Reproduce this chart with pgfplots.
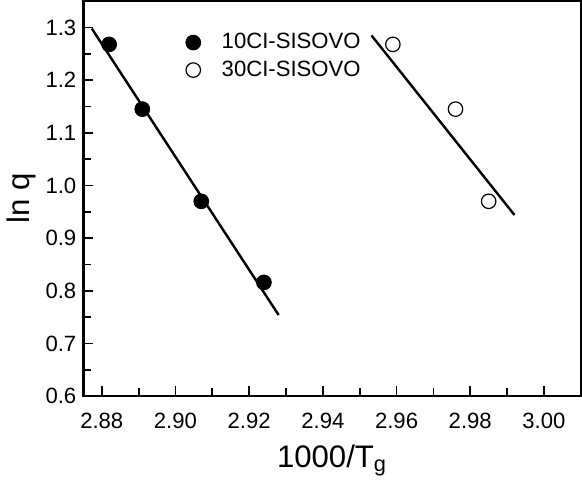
\documentclass[border=0pt]{standalone}
\usepackage{fontspec}
\setmainfont{Liberation Sans}
\usepackage{pgfplots}
\pgfplotsset{compat=1.18}
\pgfplotsset{mylegend/.style={legend image code/.code={\path (0cm,0cm) (0.57cm,0cm); \draw[mark repeat=2,mark phase=2,##1] plot coordinates {(0cm,0cm) (0.15cm,0cm) (0.57cm,0cm)};}}}
\begin{document}
\begin{tikzpicture}
\begin{axis}[
  scale only axis,
  width=247.5pt, height=196.5pt,
  xmin=2.875, xmax=3.01,
  ymin=0.6, ymax=1.35,
  xtick={2.88,2.90,...,3.00},
  minor xtick={2.87,2.89,...,3.01},
  ytick={0.6,0.7,...,1.3},
  minor ytick={0.65,0.75,...,1.35},
  xticklabel style={yshift=-5pt, /pgf/number format/.cd,fixed,fixed zerofill,precision=2},
  yticklabel style={/pgf/number format/.cd,fixed,fixed zerofill,precision=1},
  /pgf/number format/assume math mode=true,
  tick align=inside,
  xtick pos=bottom, ytick pos=left,
  major tick length=5pt, minor tick length=4pt,
  every tick/.style={black, line width=0.9pt},
  axis line style={line width=1.2pt},
  tick label style={font=\fontsize{11}{13}\selectfont},
  label style={font=\fontsize{15.5}{18}\selectfont},
  xlabel={1000/T\textsubscript{g}},
  xlabel style={yshift=-1pt},
  ylabel={ln q},
  ylabel style={yshift=-2pt},
  legend style={draw=none, fill=none, at={(0.19,0.94)}, anchor=north west,
    font=\fontsize{11}{13}\selectfont, row sep=0.5pt},
  legend cell align=left,
]
\addplot[only marks, mark=*, mark size=3.7pt, black, mylegend] coordinates {
  (2.882,1.268) (2.891,1.145) (2.907,0.970) (2.924,0.816)};
\addlegendentry{10CI-SISOVO}
\addplot[only marks, mark=o, mark size=3.6pt, black, mark options={line width=0.6pt}, mylegend] coordinates {
  (2.959,1.268) (2.976,1.145) (2.985,0.970)};
\addlegendentry{30CI-SISOVO}
\addplot[black, line width=1.2pt, forget plot] coordinates {(2.8773,1.298) (2.928,0.754)};
\addplot[black, line width=1.2pt, forget plot] coordinates {(2.9532,1.285) (2.992,0.944)};
\end{axis}
\end{tikzpicture}
\end{document}
